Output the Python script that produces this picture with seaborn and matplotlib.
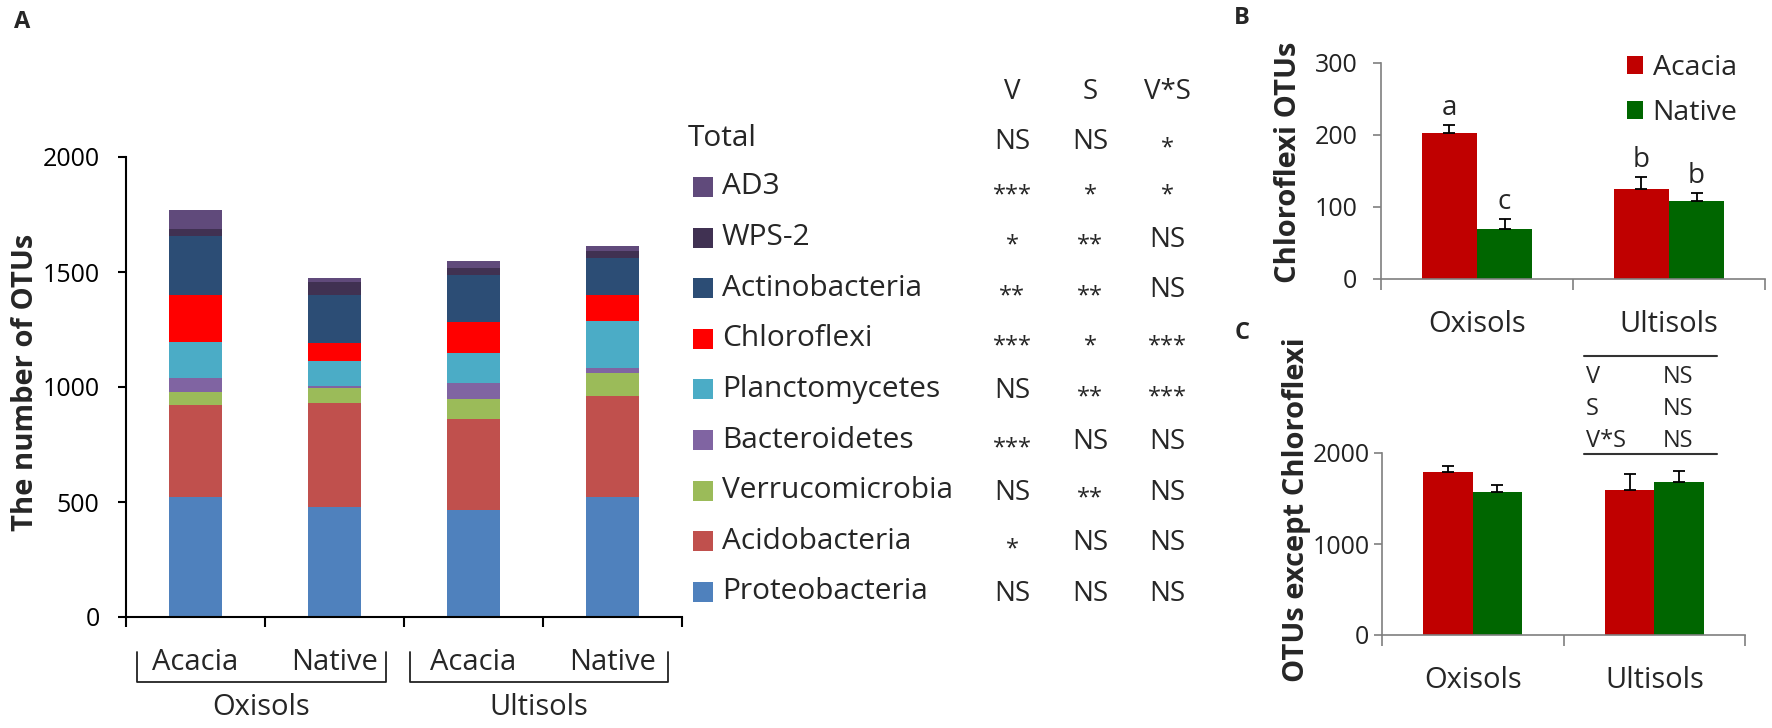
import numpy as np
import pandas as pd
import matplotlib
matplotlib.use("Agg")
import matplotlib.pyplot as plt
from matplotlib.patches import Rectangle
from matplotlib.lines import Line2D
import seaborn as sns

# ---------------- data ----------------
# panel A: stacked OTU counts per phylum (bottom -> top)
bar_ids = ["Oxisols Acacia", "Oxisols Native", "Ultisols Acacia", "Ultisols Native"]
bar_veg = ["Acacia", "Native", "Acacia", "Native"]
phyla = ["Proteobacteria", "Acidobacteria", "Verrucomicrobia", "Bacteroidetes",
         "Planctomycetes", "Chloroflexi", "Actinobacteria", "WPS-2", "AD3"]
proteobacteria = [522, 478, 465, 522]
acidobacteria = [401, 452, 398, 440]
verrucomicrobia = [54, 64, 85, 99]
bacteroidetes = [61, 12, 70, 22]
planctomycetes = [157, 106, 130, 203]
chloroflexi = [206, 80, 133, 114]
actinobacteria = [254, 206, 206, 162]
wps2 = [33, 57, 29, 31]
ad3 = [82, 18, 32, 21]
phylum_colors = ["#4F81BD", "#C0504D", "#9BBB59", "#8064A2", "#4BACC6",
                 "#FF0000", "#2C4D75", "#403152", "#604A7B"]

# significance table (top -> bottom)
sig_rows = ["Total", "AD3", "WPS-2", "Actinobacteria", "Chloroflexi", "Planctomycetes",
            "Bacteroidetes", "Verrucomicrobia", "Acidobacteria", "Proteobacteria"]
sig_cols = ["V", "S", "V*S"]
sig_v = ["NS", "***", "*", "**", "***", "NS", "***", "NS", "*", "NS"]
sig_s = ["NS", "*", "**", "**", "*", "**", "NS", "**", "NS", "NS"]
sig_vs = ["*", "*", "NS", "NS", "***", "***", "NS", "NS", "NS", "NS"]

# panels B and C
soils = ["Oxisols", "Ultisols"]
vegetation = ["Acacia", "Native"]
veg_colors = ["#C00000", "#006600"]
chloro_acacia = [203, 125]
chloro_native = [70, 109]
chloro_acacia_se = [11, 17]
chloro_native_se = [13, 11]
chloro_letters_acacia = ["a", "b"]
chloro_letters_native = ["c", "b"]
other_acacia = [1791, 1589]
other_native = [1567, 1681]
other_acacia_se = [62, 180]
other_native_se = [84, 121]
c_stats_terms = ["V", "S", "V*S"]
c_stats_vals = ["NS", "NS", "NS"]

# ---------------- style ----------------
sns.set_theme(style="white")
plt.rcParams["font.family"] = ["Open Sans", "DejaVu Sans"]

W, H = 1772, 728
fig = plt.figure(figsize=(W / 100, H / 100), dpi=100)


def fx(px):
    return px / W


def fy(py):
    return 1 - py / H


def rect(x0, y0, x1, y1):
    return [fx(x0), fy(y1), fx(x1) - fx(x0), fy(y0) - fy(y1)]


# ---------------- panel A ----------------
axA = fig.add_axes(rect(126, 157, 682, 617))
layers = np.cumsum(np.array([proteobacteria, acidobacteria, verrucomicrobia, bacteroidetes,
                             planctomycetes, chloroflexi, actinobacteria, wps2, ad3]), axis=0)
for k in range(len(phyla) - 1, -1, -1):
    sns.barplot(x=bar_ids, y=layers[k], color=phylum_colors[k], saturation=1,
                width=0.38, linewidth=0, ax=axA)
axA.set_xlim(-0.5, 3.5)
axA.set_ylim(0, 2000)
axA.set_yticks([0, 500, 1000, 1500, 2000])
axA.set_xticks([-0.5, 0.5, 1.5, 2.5, 3.5])
axA.set_xticklabels([])
axA.set_xlabel("")
axA.tick_params(axis="y", labelsize=18, length=6, width=1.5, pad=13, colors="black", left=True)
axA.tick_params(axis="x", length=7, width=1.5, colors="black", bottom=True)
for s in ["top", "right"]:
    axA.spines[s].set_visible(False)
for s in ["left", "bottom"]:
    axA.spines[s].set_color("black")
    axA.spines[s].set_linewidth(1.5)
axA.set_ylabel("The number of OTUs", fontsize=21, fontweight="bold")
axA.yaxis.set_label_coords(-0.155, 0.51)

tr = axA.get_xaxis_transform()
for i, lab in enumerate(bar_veg):
    axA.text(i, -0.098, lab, transform=tr, ha="center", va="center", fontsize=21)
for lab, (xl, xr) in zip(soils, [(-0.42, 1.37), (1.54, 3.40)]):
    axA.plot([xl, xl, xr, xr], [-0.076, -0.141, -0.141, -0.076], transform=tr,
             color="#222222", lw=1.3, clip_on=False)
    axA.text((xl + xr) / 2, -0.196, lab, transform=tr, ha="center", va="center", fontsize=21)

fig.text(fx(14), fy(22), "A", fontsize=17, fontweight="bold", va="center", ha="left")

# legend + significance table
col_x = [1012, 1090, 1167]
for cx, c in zip(col_x, sig_cols):
    fig.text(fx(cx), fy(92), c, fontsize=20, ha="center", va="center")
row_y = [140] + [187 + 50.6 * k for k in range(9)]
legend_colors = {p: c for p, c in zip(phyla, phylum_colors)}
for r, (name, y) in enumerate(zip(sig_rows, row_y)):
    if name == "Total":
        fig.text(fx(688), fy(y - 2), name, fontsize=21.5, ha="left", va="center")
    else:
        fig.patches.append(Rectangle((fx(693), fy(y + 10)), fx(20), 20 / H,
                                     transform=fig.transFigure, facecolor=legend_colors[name],
                                     edgecolor="none"))
        fig.text(fx(722), fy(y), name, fontsize=21.5, ha="left", va="center")
    for cx, vals in zip(col_x, [sig_v, sig_s, sig_vs]):
        v = vals[r]
        if v == "NS":
            fig.text(fx(cx), fy(y + 2), v, fontsize=20, ha="center", va="center")
        else:
            fig.text(fx(cx), fy(y + 8), v, fontsize=17, ha="center", va="center")

# ---------------- panels B and C ----------------
def veg_frame(acacia, native):
    return pd.DataFrame({"soil": soils * 2,
                         "veg": [vegetation[0]] * 2 + [vegetation[1]] * 2,
                         "value": list(acacia) + list(native)})


def style_small(ax, ymax, yticks, pad):
    ax.set_ylim(0, ymax)
    ax.set_xlim(-0.5, 1.5)
    ax.set_yticks(yticks)
    ax.set_xticks([0, 1])
    ax.set_xticklabels(soils)
    ax.set_xticks([-0.5, 0.5, 1.5], minor=True)
    ax.set_xlabel("")
    ax.tick_params(axis="x", which="major", length=0, labelsize=21, pad=22)
    ax.tick_params(axis="x", which="minor", length=8, width=1.2, color="#7f7f7f", bottom=True)
    ax.tick_params(axis="y", length=6, width=1.2, color="#7f7f7f", labelsize=18, pad=pad,
                   left=True, labelcolor="#222222")
    for s in ["top", "right"]:
        ax.spines[s].set_visible(False)
    for s in ["left", "bottom"]:
        ax.spines[s].set_color("#7f7f7f")
        ax.spines[s].set_linewidth(1.2)


def add_errors(ax, errs):
    for cont, err in zip(ax.containers, errs):
        xs = [b.get_x() + b.get_width() / 2 for b in cont]
        hs = [b.get_height() for b in cont]
        ax.errorbar(xs, hs, yerr=[np.zeros(len(err)), err], fmt="none", ecolor="black",
                    elinewidth=1.3, capsize=4, capthick=1.3, zorder=5)


axB = fig.add_axes(rect(1381, 63, 1765, 279))
sns.barplot(data=veg_frame(chloro_acacia, chloro_native), x="soil", y="value", hue="veg",
            palette=veg_colors, saturation=1, width=0.573, linewidth=0, errorbar=None, ax=axB)
style_small(axB, 300, [0, 100, 200, 300], 11)
add_errors(axB, [chloro_acacia_se, chloro_native_se])
for cont, means, errs, letters in zip(axB.containers, [chloro_acacia, chloro_native],
                                      [chloro_acacia_se, chloro_native_se],
                                      [chloro_letters_acacia, chloro_letters_native]):
    for b, m, e, l in zip(cont, means, errs, letters):
        axB.annotate(l, (b.get_x() + b.get_width() / 2, m + e), xytext=(0, 2),
                     textcoords="offset points", ha="center", va="bottom", fontsize=20)
axB.set_ylabel("Chloroflexi OTUs", fontsize=21, fontweight="bold")
axB.yaxis.set_label_coords(-0.202, 0.54)
sns.move_legend(axB, loc="upper left", bbox_to_anchor=(fx(1627), fy(54)),
                bbox_transform=fig.transFigure, frameon=False, title=None, fontsize=20.5,
                handlelength=0.55, handleheight=0.62, handletextpad=0.35, labelspacing=0.6,
                borderpad=0, borderaxespad=0)
fig.text(fx(1242), fy(18), "B", fontsize=17, fontweight="bold", va="center", ha="center")

axC = fig.add_axes(rect(1382, 453, 1745, 635))
sns.barplot(data=veg_frame(other_acacia, other_native), x="soil", y="value", hue="veg",
            palette=veg_colors, saturation=1, width=0.543, linewidth=0, errorbar=None,
            legend=False, ax=axC)
style_small(axC, 2000, [0, 1000, 2000], 3)
add_errors(axC, [other_acacia_se, other_native_se])
axC.set_ylabel("OTUs except Chloroflexi", fontsize=21, fontweight="bold")
axC.yaxis.set_label_coords(-0.196, 0.69)
fig.text(fx(1242), fy(333), "C", fontsize=17, fontweight="bold", va="center", ha="center")

# small stats table in C
for ly in [356, 454]:
    fig.add_artist(Line2D([fx(1584), fx(1717)], [fy(ly), fy(ly)], color="#333333", lw=1.5))
for term, val, ty in zip(c_stats_terms, c_stats_vals, [377, 409, 441]):
    fig.text(fx(1586), fy(ty), term, fontsize=17, ha="left", va="center")
    fig.text(fx(1663), fy(ty), val, fontsize=17, ha="left", va="center")

fig.savefig("out.png", dpi=100, facecolor="white")
